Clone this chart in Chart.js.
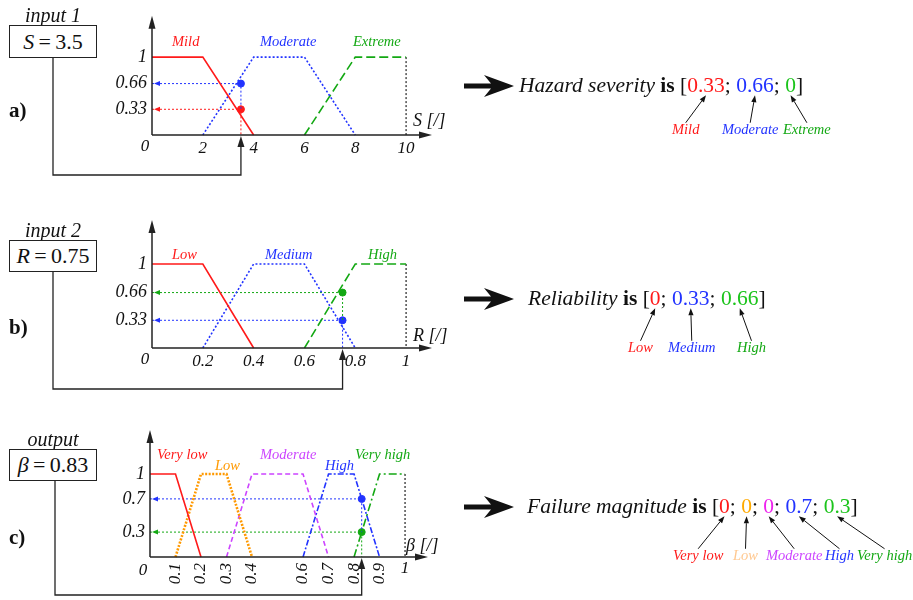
<!DOCTYPE html>
<html>
<head>
<meta charset="utf-8">
<script src="https://cdn.jsdelivr.net/npm/chart.js@4.4.1/dist/chart.umd.min.js"></script>
<style>
  body { margin: 0; background: #fff; }
  #wrap { position: relative; width: 913px; height: 600px; overflow: hidden;
          font-family: "Liberation Serif", "DejaVu Serif", serif; color: #111; }
  canvas { position: absolute; left: 0; }
  .t { position: absolute; white-space: nowrap; line-height: 1; transform: translateY(-50%); }
  .c { transform: translate(-50%, -50%); }
  .box { position: absolute; left: 9px; width: 88px; border: 1.5px solid #222; box-sizing: border-box;
         display: flex; align-items: center; justify-content: center; font-size: 22px; background: #fff; }
  svg { position: absolute; left: 0; top: 0; pointer-events: none; }
</style>
</head>
<body>
<div id="wrap">
  <canvas id="chartA" width="913" height="190" style="top:0px"></canvas>
  <canvas id="chartB" width="913" height="210" style="top:190px"></canvas>
  <canvas id="chartC" width="913" height="200" style="top:400px"></canvas>
  <svg id="arrows" width="913" height="600"></svg>
</div>
<script>
// ---- a) hazard severity S ----
const sTicks = [0, 2, 4, 6, 8, 10];
const sLevels = [0.33, 0.66, 1];
const sNames = ['Mild', 'Moderate', 'Extreme'];
const sMild = [{x: 0, y: 1}, {x: 2, y: 1}, {x: 4, y: 0}];
const sModerate = [{x: 2, y: 0}, {x: 4, y: 1}, {x: 6, y: 1}, {x: 8, y: 0}];
const sExtreme = [{x: 6, y: 0}, {x: 8, y: 1}, {x: 10, y: 1}];
const sInput = 3.5;
const sResult = [0.33, 0.66, 0];

// ---- b) reliability R ----
const rTicks = [0, 0.2, 0.4, 0.6, 0.8, 1];
const rLevels = [0.33, 0.66, 1];
const rNames = ['Low', 'Medium', 'High'];
const rLow = [{x: 0, y: 1}, {x: 0.2, y: 1}, {x: 0.4, y: 0}];
const rMedium = [{x: 0.2, y: 0}, {x: 0.4, y: 1}, {x: 0.6, y: 1}, {x: 0.8, y: 0}];
const rHigh = [{x: 0.6, y: 0}, {x: 0.8, y: 1}, {x: 1, y: 1}];
const rInput = 0.75;
const rResult = [0, 0.33, 0.66];

// ---- c) failure magnitude beta ----
const bTicks = [0, 0.1, 0.2, 0.3, 0.4, 0.6, 0.7, 0.8, 0.9, 1];
const bLevels = [0.3, 0.7, 1];
const bNames = ['Very low', 'Low', 'Moderate', 'High', 'Very high'];
const bVeryLow = [{x: 0, y: 1}, {x: 0.1, y: 1}, {x: 0.2, y: 0}];
const bLow = [{x: 0.1, y: 0}, {x: 0.2, y: 1}, {x: 0.3, y: 1}, {x: 0.4, y: 0}];
const bModerate = [{x: 0.3, y: 0}, {x: 0.4, y: 1}, {x: 0.6, y: 1}, {x: 0.7, y: 0}];
const bHigh = [{x: 0.6, y: 0}, {x: 0.7, y: 1}, {x: 0.8, y: 1}, {x: 0.9, y: 0}];
const bVeryHigh = [{x: 0.8, y: 0}, {x: 0.9, y: 1}, {x: 1, y: 1}];
const bOutput = 0.83;
const bResult = [0, 0, 0, 0.7, 0.3];

// colours
const RED = '#ff1a1a', BLUE = '#2233ff', GREEN = '#13a813', ORANGE = '#ff9900', VIOLET = '#cc44ff';
const FONT = '"Liberation Serif", "DejaVu Serif", serif';

function curve(data, color, dash, width) {
  return {data: data, showLine: true, borderColor: color, borderWidth: width || 1.6, borderDash: dash,
          pointRadius: 0, fill: false, clip: false};
}

// helper lines: horizontal from axis to the dot, then down to the next lower dot
function helpers(input, result, colors) {
  const idx = result.map((v, i) => i).filter(i => result[i] > 0).sort((a, b) => result[b] - result[a]);
  const sets = [];
  idx.forEach((i, k) => {
    const next = k + 1 < idx.length ? result[idx[k + 1]] : 0;
    sets.push(curve([{x: 0, y: result[i]}, {x: input, y: result[i]}, {x: input, y: next}], colors[i], [2, 2], 1));
    sets.push({data: [{x: input, y: result[i]}], pointRadius: 3.5, backgroundColor: colors[i],
               borderColor: colors[i], showLine: false, clip: false});
  });
  return {sets: sets, marks: idx.map(i => ({y: result[i], color: colors[i]}))};
}

function arrowHead(ctx, x, y, dir, len, half) {
  ctx.beginPath();
  if (dir === 'up') { ctx.moveTo(x, y); ctx.lineTo(x - half, y + len); ctx.lineTo(x + half, y + len); }
  if (dir === 'right') { ctx.moveTo(x, y); ctx.lineTo(x - len, y - half); ctx.lineTo(x - len, y + half); }
  if (dir === 'left') { ctx.moveTo(x, y); ctx.lineTo(x + len, y - half); ctx.lineTo(x + len, y + half); }
  ctx.closePath();
  ctx.fill();
}

const fuzzyAxes = {
  id: 'fuzzyAxes',
  afterDatasetsDraw(chart, args, o) {
    const {ctx, chartArea: a, scales: {x, y}} = chart;
    const x0 = x.getPixelForValue(0), y0 = y.getPixelForValue(0);
    ctx.save();
    ctx.strokeStyle = '#222'; ctx.fillStyle = '#222'; ctx.lineWidth = 1.5; ctx.setLineDash([]);
    ctx.beginPath(); ctx.moveTo(x0, y0); ctx.lineTo(x0, a.top + 8); ctx.stroke();
    arrowHead(ctx, x0, a.top, 'up', 13, 3.5);
    ctx.beginPath(); ctx.moveTo(x0, y0); ctx.lineTo(a.right - 8, y0); ctx.stroke();
    arrowHead(ctx, a.right, y0, 'right', 13, 3.5);
    // connector from the value box to the input position
    const xi = x.getPixelForValue(o.input);
    ctx.lineWidth = 1.3;
    ctx.beginPath(); ctx.moveTo(o.boxX, o.boxBottom); ctx.lineTo(o.boxX, o.low);
    ctx.lineTo(xi, o.low); ctx.lineTo(xi, y0 + 10); ctx.stroke();
    arrowHead(ctx, xi, y0 + 1, 'up', 11, 3.5);
    // small arrow heads where the helper lines reach the y axis
    o.marks.forEach(m => { ctx.fillStyle = m.color; arrowHead(ctx, x0 + 2, y.getPixelForValue(m.y), 'left', 6, 2.5); });
    // origin label sits left of the axis; in c) the "1" stays upright too
    ctx.fillStyle = '#111'; ctx.font = 'italic 17px ' + FONT; ctx.textAlign = 'center'; ctx.textBaseline = 'middle';
    ctx.fillText('0', x0 - 7, y0 + (o.endLabels ? 14 : 12));
    if (o.endLabels) ctx.fillText('1', x.getPixelForValue(1), y0 + 12);
    ctx.restore();
  }
};

function fuzzyChart(id, p, datasets, marks) {
  return new Chart(document.getElementById(id), {
    type: 'scatter',
    data: {datasets: datasets},
    options: {
      responsive: false, animation: false, devicePixelRatio: 1,
      layout: {padding: {left: 0, right: 913 - p.right, top: p.top, bottom: 0}},
      plugins: {legend: {display: false}, tooltip: {enabled: false},
                fuzzyAxes: {input: p.input, boxX: p.boxX, boxBottom: p.boxBottom, low: p.low, marks: marks, endLabels: p.endLabels}},
      scales: {
        x: {type: 'linear', min: 0, max: p.xMax, grid: {display: false, drawTicks: false}, border: {display: false},
            afterBuildTicks: s => { s.ticks = p.xTicks.map(v => ({value: v})); },
            afterFit: s => { s.height = p.xHeight; },
            ticks: {autoSkip: false, padding: p.xPad, minRotation: p.rot, maxRotation: p.rot, color: '#111',
                    font: {family: FONT, style: 'italic', size: 17},
                    callback: v => (v === 0 || (p.endLabels && v === 1)) ? '' : String(v)}},
        y: {type: 'linear', min: 0, max: p.yMax, grid: {display: false, drawTicks: false}, border: {display: false},
            afterBuildTicks: s => { s.ticks = p.yTicks.map(v => ({value: v})); },
            afterFit: s => { s.width = p.left; },
            ticks: {padding: 5, color: '#111', font: {family: FONT, style: 'italic', size: 18},
                    callback: v => String(v)}}
      }
    },
    plugins: [fuzzyAxes]
  });
}

const hA = helpers(sInput, sResult, [RED, BLUE, GREEN]);
fuzzyChart('chartA', {top: 5, left: 152, right: 432, xHeight: 55, xMax: 11.02, yMax: 1.53, xPad: 3, rot: 0,
  xTicks: sTicks, yTicks: sLevels, input: sInput, boxX: 53, boxBottom: 58, low: 175},
  [curve(sMild, RED, []), curve(sModerate, BLUE, [2, 2]), curve(sExtreme, GREEN, [9, 4]),
   curve([{x: 10, y: 1}, {x: 10, y: 0}], '#222', [2, 2], 1.2)].concat(hA.sets), hA.marks);

const hB = helpers(rInput, rResult, [RED, BLUE, GREEN]);
fuzzyChart('chartB', {top: 30, left: 152, right: 432, xHeight: 52, xMax: 1.102, yMax: 1.524, xPad: 3, rot: 0,
  xTicks: rTicks, yTicks: rLevels, input: rInput, boxX: 53, boxBottom: 82, low: 199},
  [curve(rLow, RED, []), curve(rMedium, BLUE, [2, 2]), curve(rHigh, GREEN, [9, 4]),
   curve([{x: 1, y: 1}, {x: 1, y: 0}], '#222', [2, 2], 1.2)].concat(hB.sets), hB.marks);

const hC = helpers(bOutput, bResult, [RED, ORANGE, VIOLET, BLUE, GREEN]);
fuzzyChart('chartC', {top: 30, left: 150, right: 428, xHeight: 43, xMax: 1.09, yMax: 1.53, xPad: 6, rot: 90,
  xTicks: bTicks, yTicks: bLevels, input: bOutput, boxX: 55, boxBottom: 81, low: 195, endLabels: true},
  [curve(bVeryLow, RED, []), curve(bLow, ORANGE, [2, 1.5], 2.6), curve(bModerate, VIOLET, [5, 3]),
   curve(bHigh, BLUE, [6, 2, 2, 2]), curve(bVeryHigh, GREEN, [8, 3, 2, 3]),
   curve([{x: 1, y: 1}, {x: 1, y: 0}], '#222', [2, 2], 1.2)].concat(hC.sets), hC.marks);

// ---- text layer ----
const wrap = document.getElementById('wrap');
function txt(html, left, cy, size, style, center) {
  const d = document.createElement('div');
  d.className = 't' + (center ? ' c' : '');
  d.style.left = left + 'px'; d.style.top = cy + 'px'; d.style.fontSize = size + 'px';
  if (style) d.style.cssText += style;
  d.innerHTML = html;
  wrap.appendChild(d);
  return d;
}
function box(html, top, h) {
  const d = document.createElement('div');
  d.className = 'box'; d.style.top = top + 'px'; d.style.height = h + 'px';
  d.innerHTML = html;
  wrap.appendChild(d);
}

txt('input 1', 53, 15, 20, 'font-style:italic', true);
txt('input 2', 53, 230, 20, 'font-style:italic', true);
txt('output', 53, 439, 20, 'font-style:italic', true);
box('<i>S</i>&thinsp;=&thinsp;' + sInput, 25, 33);
box('<i>R</i>&thinsp;=&thinsp;' + rInput, 240, 32);
box('<i>β</i>&thinsp;=&thinsp;' + bOutput, 449, 32);
txt('a)', 9, 110, 21, 'font-weight:bold');
txt('b)', 9, 327, 21, 'font-weight:bold');
txt('c)', 9, 537, 21, 'font-weight:bold');
txt('<i>S [/]</i>', 413, 120, 18);
txt('<i>R [/]</i>', 413, 335, 18);
txt('<i>β [/]</i>', 406, 545, 18);

// curve names inside the plots
[[sNames[0], 172, 41, RED], [sNames[1], 260, 41, BLUE], [sNames[2], 353, 41, GREEN],
 [rNames[0], 172, 254, RED], [rNames[1], 265, 254, BLUE], [rNames[2], 368, 254, GREEN],
 [bNames[0], 157, 454, RED], [bNames[1], 215, 465, ORANGE], [bNames[2], 260, 454, VIOLET],
 [bNames[3], 325, 465, BLUE], [bNames[4], 355, 454, GREEN]
].forEach(l => txt(l[0], l[1], l[2], 14.5, 'font-style:italic;color:' + l[3]));

// result lines on the right
function result(title, values, colors, left, cy) {
  const spans = values.map((v, i) => '<span class="val" style="color:' + colors[i] + '">' + v + '</span>');
  return txt('<i>' + title + '</i> <b>is</b> [' + spans.join('; ') + ']', left, cy, 21.5);
}
const resA = result('Hazard severity', sResult, [RED, BLUE, '#1cc41c'], 519, 86);
const resB = result('Reliability', rResult, [RED, BLUE, '#1cc41c'], 528, 299);
const resC = result('Failure magnitude', bResult, [RED, '#ffaa00', '#ee22ee', BLUE, '#1cc41c'], 527, 507);

function names(list, lefts, cy, colors) {
  return list.map((n, i) => txt(n, lefts[i], cy, 14.5, 'font-style:italic;color:' + colors[i]));
}
const labA = names(sNames, [672, 722, 783], 129, [RED, BLUE, GREEN]);
const labB = names(rNames, [628, 668, 737], 347, [RED, BLUE, GREEN]);
const labC = names(bNames, [673, 733, 766, 825, 857], 555, [RED, '#ffc890', VIOLET, BLUE, GREEN]);

// arrows (svg)
const svg = document.getElementById('arrows');
const NS = 'http://www.w3.org/2000/svg';
function path(d, fill, stroke, w) {
  const p = document.createElementNS(NS, 'path');
  p.setAttribute('d', d); p.setAttribute('fill', fill || 'none');
  if (stroke) { p.setAttribute('stroke', stroke); p.setAttribute('stroke-width', w); }
  svg.appendChild(p);
}
[86, 299, 507].forEach(cy => {
  path('M464,' + (cy - 2.5) + ' L491,' + (cy - 2.5) + ' L484,' + (cy - 11) + ' L514,' + cy +
       ' L484,' + (cy + 11) + ' L491,' + (cy + 2.5) + ' L464,' + (cy + 2.5) + ' Z', '#111');
});
const wr = wrap.getBoundingClientRect();
function link(label, value) {
  const a = label.getBoundingClientRect(), b = value.getBoundingClientRect();
  const x1 = (a.left + a.right) / 2 - wr.left, y1 = a.top - wr.top + 1;
  const x2 = (b.left + b.right) / 2 - wr.left, y2 = b.bottom - wr.top - 2;
  const ang = Math.atan2(y2 - y1, x2 - x1), L = 7, H = 2.6;
  const bx = x2 - L * Math.cos(ang), by = y2 - L * Math.sin(ang);
  path('M' + x1 + ',' + y1 + ' L' + bx + ',' + by, null, '#111', 1);
  path('M' + x2 + ',' + y2 + ' L' + (bx + H * Math.sin(ang)) + ',' + (by - H * Math.cos(ang)) +
       ' L' + (bx - H * Math.sin(ang)) + ',' + (by + H * Math.cos(ang)) + ' Z', '#111');
}
[[labA, resA], [labB, resB], [labC, resC]].forEach(pair => {
  const vals = pair[1].querySelectorAll('.val');
  pair[0].forEach((l, i) => link(l, vals[i]));
});
</script>
</body>
</html>
